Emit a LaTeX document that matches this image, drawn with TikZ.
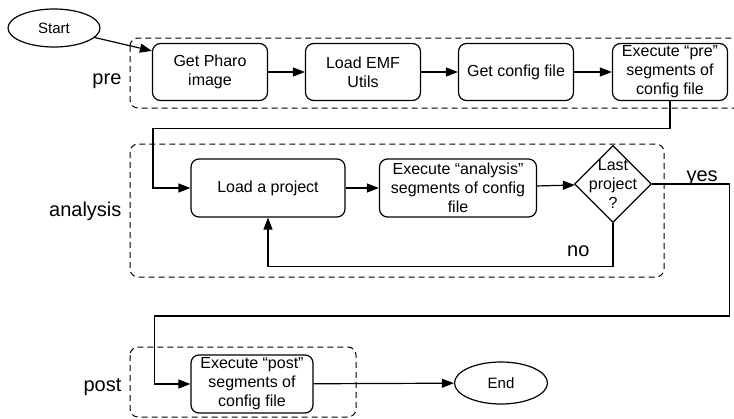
\documentclass[tikz,border=0pt]{standalone}
\usepackage{fontspec}
\setmainfont{Liberation Sans}
\usetikzlibrary{arrows.meta}
\usetikzlibrary{shapes.geometric}

\begin{document}
\begin{tikzpicture}[x=1pt, y=-1pt, line width=1.2pt,
    proc/.style={draw, rounded corners=8pt, align=center, inner sep=2pt,
        minimum width=115, minimum height=57, font=\fontsize{16}{19}\selectfont},
    term/.style={draw, ellipse, inner sep=0pt, minimum width=92,
        minimum height=38, font=\fontsize{15}{18}\selectfont},
    decision/.style={draw, diamond, aspect=1, inner sep=-5pt, align=center,
        font=\fontsize{16}{19}\selectfont},
    group/.style={draw, line width=1pt, dash pattern=on 6pt off 4pt, rounded corners=8pt},
    grouplabel/.style={inner sep=0pt, anchor=base east, font=\fontsize{20}{24}\selectfont},
    edgelabel/.style={inner sep=0pt, font=\fontsize{20}{24}\selectfont},
    arr/.style={-{Triangle[length=12pt, width=9pt]}}]

    \useasboundingbox (0,0) rectangle (734,418);

    % Declare the groups
    \draw[group] (130,38) rectangle (750,108);
    \draw[group] (130,144) rectangle (664,277);
    \draw[group] (130,347) rectangle (356,417);
    \node[grouplabel] at (122,84) (prelabel) {pre};
    \node[grouplabel] at (122,216) (analysislabel) {analysis};
    \node[grouplabel] at (122,391) (postlabel) {post};

    % Declare the states
    \node[term] at (54,28) (start) {Start};
    \node[proc] at (210,72) (pharo) {Get Pharo\\image};
    \node[proc] at (363,72) (emf) {Load EMF\\Utils};
    \node[proc] at (516,72) (config) {Get config file};
    \node[proc] at (670,72) (prex) {Execute “pre”\\segments of\\config file};
    \node[proc, minimum width=154, minimum height=58] at (268,188) (load) {Load a project};
    \node[proc, minimum width=157, minimum height=58] at (458,188) (anax) {Execute “analysis”\\segments of config\\file};
    \node[decision] at (613,184) (last) {Last\\project\\?};
    \node[proc, minimum width=122, minimum height=58] at (252,384) (postx) {Execute “post”\\segments of\\config file};
    \node[term, minimum width=93, minimum height=42] at (501,383) (end) {End};

    % Declare edges
    \draw[arr] (start) -- ([yshift=-8pt]pharo.north west);
    \draw[arr] (pharo) -- (emf);
    \draw[arr] (emf) -- (config);
    \draw[arr] (config) -- (prex);
    \draw[arr] (prex.south) |- ++(-517,27) |- (load.west);
    \draw[arr] (load) -- (anax);
    \draw[arr] (anax) -- (last);
    \draw[arr] (last.south) -- node[edgelabel, pos=0.78, anchor=base east, xshift=-23pt] {no} ++(0,43) -| (load.south);
    \draw[arr] (last.east) -- node[edgelabel, pos=0.65, anchor=base, yshift=3pt] {yes} ++(77,0) |- ++(-575,132) |- (postx.west);
    \draw[arr] (postx) -- (end);

\end{tikzpicture}
\end{document}
